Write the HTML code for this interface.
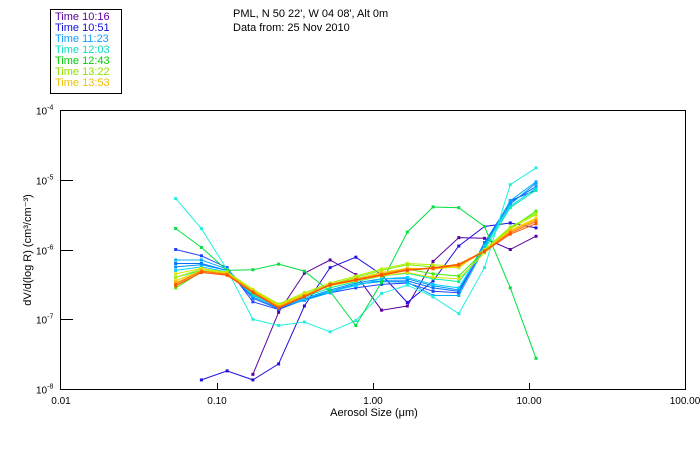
<!DOCTYPE html>
<html><head><meta charset="utf-8">
<style>
html,body{margin:0;padding:0;background:#fff;}
body{width:700px;height:450px;overflow:hidden;position:relative;font-family:"Liberation Sans",sans-serif;}
svg text{font-family:"Liberation Sans",sans-serif;}
</style></head>
<body>
<svg id="chart" width="700" height="450" viewBox="0 0 700 450" xmlns="http://www.w3.org/2000/svg">
  <rect x="0" y="0" width="700" height="450" fill="#fff"/>
  <g>
    <rect x="50.5" y="9.5" width="71" height="84" fill="#fff" stroke="#000" stroke-width="1"/>
    <text x="55" y="20" font-size="11" fill="#5a00a0">Time 10:16</text>
    <text x="55" y="31" font-size="11" fill="#1010e0">Time 10:51</text>
    <text x="55" y="42" font-size="11" fill="#10a0ff">Time 11:23</text>
    <text x="55" y="53" font-size="11" fill="#10e0c0">Time 12:03</text>
    <text x="55" y="64" font-size="11" fill="#00d000">Time 12:43</text>
    <text x="55" y="75" font-size="11" fill="#90e000">Time 13:22</text>
    <text x="55" y="86" font-size="11" fill="#f0c000">Time 13:53</text>
  </g>
  <text x="233" y="17" font-size="11" fill="#000">PML, N 50 22', W 04 08', Alt 0m</text>
  <text x="233" y="31" font-size="11" fill="#000">Data from: 25 Nov 2010</text>
  <g id="axes"></g>
  <g id="series"></g>
  <text x="374" y="416" font-size="11" text-anchor="middle" fill="#000">Aerosol Size (μm)</text>
  <text transform="translate(31,250) rotate(-90)" font-size="11" text-anchor="middle" fill="#000">dV/d(log R) (cm³/cm⁻³)</text>
</svg>
<script>
// data (sizes in log10 µm, values in log10 dV/dlogR)
const sizeLog = [-1.265,-1.1,-0.935,-0.77,-0.605,-0.44,-0.275,-0.11,0.055,0.22,0.385,0.55,0.715,0.88,1.045];
const xTickLabels = ["0.01","0.10","1.00","10.00","100.00"];
const xTickValues = [-2,-1,0,1,2];
const yTickValues = [-4,-5,-6,-7,-8];
const seriesColors = ["#5a00a0","#2010e0","#2040ff","#0070ff","#0090ff","#00b0ff","#00d0ff","#20f0e0","#00f0a0","#00e040","#40f000","#80f000","#b0f000","#e0e000","#ffd000","#ffa000","#ff7000","#ff5000"];
const s01 = [null,null,null,-7.79,-6.9,-6.34,-6.15,-6.36,-6.87,-6.81,-6.17,-5.83,-5.84,-6.0,-5.81];
const s02 = [null,-7.87,-7.74,-7.87,-7.64,-6.81,-6.26,-6.11,-6.36,-6.76,-6.45,-5.95,-5.67,-5.62,-5.69];
const s03 = [-6.0,-6.09,-6.26,-6.75,-6.86,-6.72,-6.62,-6.55,-6.5,-6.48,-6.6,-6.62,-5.95,-5.3,-5.15];
const s04 = [-6.2,-6.2,-6.3,-6.7,-6.85,-6.72,-6.6,-6.5,-6.45,-6.45,-6.55,-6.6,-5.9,-5.32,-5.1];
const s05 = [-6.25,-6.22,-6.3,-6.68,-6.84,-6.7,-6.58,-6.48,-6.42,-6.42,-6.52,-6.58,-5.92,-5.35,-5.05];
const s06 = [-6.15,-6.15,-6.28,-6.65,-6.83,-6.73,-6.62,-6.5,-6.46,-6.47,-6.66,-6.66,-5.98,-5.3,-5.03];
const s07 = [-6.3,-6.25,-6.32,-6.66,-6.82,-6.7,-6.6,-6.52,-6.42,-6.4,-6.5,-6.55,-5.95,-5.38,-5.12];
const s08 = [-5.27,-5.7,-6.29,-7.0,-7.09,-7.04,-7.18,-7.02,-6.63,-6.51,-6.68,-6.92,-6.26,-5.07,-4.83];
const s09 = [-6.4,-6.3,-6.33,-6.64,-6.82,-6.68,-6.55,-6.46,-6.38,-6.34,-6.42,-6.46,-6.0,-5.4,-5.15];
const s10 = [-5.7,-5.97,-6.3,-6.29,-6.21,-6.31,-6.6,-7.09,-6.47,-5.75,-5.39,-5.4,-5.67,-6.55,-7.56];
const s11 = [-6.55,-6.32,-6.33,-6.6,-6.8,-6.65,-6.52,-6.42,-6.33,-6.28,-6.35,-6.38,-6.02,-5.7,-5.45];
const s12 = [-6.45,-6.3,-6.33,-6.58,-6.79,-6.64,-6.5,-6.4,-6.3,-6.22,-6.25,-6.26,-6.0,-5.68,-5.48];
const s13 = [-6.4,-6.28,-6.32,-6.57,-6.78,-6.62,-6.48,-6.38,-6.28,-6.2,-6.22,-6.24,-6.0,-5.7,-5.5];
const s14 = [-6.35,-6.27,-6.34,-6.58,-6.8,-6.64,-6.52,-6.45,-6.38,-6.33,-6.4,-6.42,-6.05,-5.74,-5.56];
const s15 = [-6.45,-6.3,-6.35,-6.6,-6.81,-6.66,-6.5,-6.42,-6.33,-6.27,-6.28,-6.25,-6.02,-5.72,-5.55];
const s16 = [-6.48,-6.31,-6.35,-6.6,-6.82,-6.66,-6.5,-6.43,-6.35,-6.28,-6.27,-6.23,-6.02,-5.74,-5.58];
const s17 = [-6.5,-6.31,-6.36,-6.61,-6.83,-6.67,-6.5,-6.43,-6.36,-6.29,-6.26,-6.21,-6.02,-5.76,-5.6];
const s18 = [-6.52,-6.33,-6.37,-6.62,-6.84,-6.68,-6.51,-6.44,-6.37,-6.3,-6.27,-6.22,-6.03,-5.78,-5.63];
const allSeries = [s01,s02,s03,s04,s05,s06,s07,s08,s09,s10,s11,s12,s13,s14,s15,s16,s17,s18];

const NS = "http://www.w3.org/2000/svg";
const L = 61, R = 685, T = 110, B = 389;
function xScale(lv){ return L + (lv + 2) / 4 * (R - L); }
function yScale(lv){ return T + (-4 - lv) / 4 * (B - T); }
function mk(tag, attrs, parent){ const e = document.createElementNS(NS, tag); for (const k in attrs) e.setAttribute(k, attrs[k]); parent.appendChild(e); return e; }

const axes = document.getElementById('axes');
const frame = mk('rect', {x: L - 0.5, y: T + 0.5, width: R - L + 1, height: B - T, fill: 'none', stroke: '#000', 'stroke-width': 1}, axes);


xTickValues.forEach((v, i) => {
  const x = Math.round(xScale(v)) + 0.5;
  if (i > 0 && i < xTickValues.length - 1) {
    const t = mk('line', {x1: x, x2: x, y1: B, y2: B - 6, stroke: '#000'}, axes);
    
    
  }
  const lb = mk('text', {x: xScale(v), y: 404, 'font-size': 10, 'text-anchor': 'middle', fill: '#000'}, axes);
  lb.textContent = xTickLabels[i];
  
  
});
yTickValues.forEach((v, i) => {
  const y = Math.round(yScale(v)) + 0.5;
  if (i > 0 && i < yTickValues.length - 1) {
    const t = mk('line', {x1: L, x2: L + 12, y1: y, y2: y, stroke: '#000'}, axes);
    
    
  }
  const lb = mk('text', {x: 36, y: y + 4, 'font-size': 10, fill: '#000'}, axes);
  lb.textContent = '10';
  const sup = mk('tspan', {dy: -5, 'font-size': 7}, lb);
  sup.textContent = String(v);
  
  
});

const sg = document.getElementById('series');
allSeries.forEach((vals, si) => {
  const g = mk('g', {}, sg);
  
  
  const col = seriesColors[si];
  let d = '';
  vals.forEach((v, i) => {
    if (v === null) return;
    d += (d ? 'L' : 'M') + xScale(sizeLog[i]).toFixed(1) + ',' + yScale(v).toFixed(1);
  });
  const p = mk('path', {d: d, fill: 'none', stroke: col, 'stroke-width': 1}, g);
  
  
  vals.forEach((v, i) => {
    if (v === null) return;
    const m = mk('rect', {x: xScale(sizeLog[i]) - 1.5, y: yScale(v) - 1.5, width: 3, height: 3, fill: col}, g);
    
    
  });
});
</script>
</body></html>
